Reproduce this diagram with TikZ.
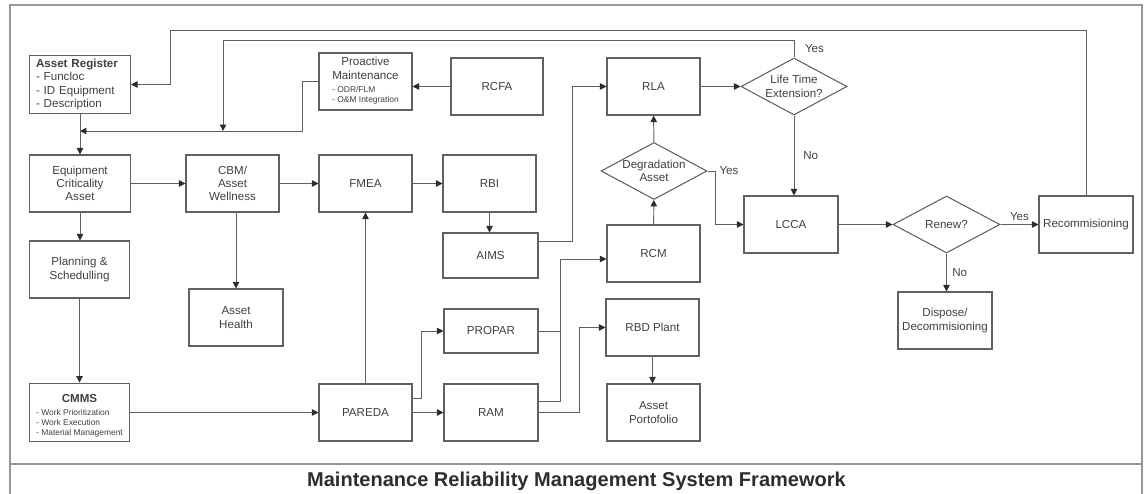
\documentclass[tikz,border=0pt]{standalone}
\usepackage{fontspec}
\setmainfont{Liberation Sans}
\usetikzlibrary{arrows.meta,shapes.geometric}
\definecolor{MrmsGray}{RGB}{96,96,96}
\definecolor{MrmsText}{RGB}{64,64,64}
\definecolor{MrmsDark}{RGB}{45,45,45}
\definecolor{MrmsFrame}{RGB}{150,150,150}
\newcommand{\mrmssmall}{\fontsize{4.8}{5.6}\selectfont}
\tikzset{
  mrms/box/.style={
    draw=MrmsGray,
    line width=0.6pt,
    fill=white,
    align=center,
    text=MrmsText,
    minimum width=1.86cm,
    minimum height=1.14cm,
    inner sep=2pt,
    font=\fontsize{6.6}{7.6}\selectfont
  },
  mrms/decision/.style={
    diamond,
    aspect=1.86,
    draw=MrmsGray,
    line width=0.6pt,
    fill=white,
    align=center,
    text=MrmsText,
    minimum width=2.12cm,
    minimum height=1.14cm,
    inner sep=0pt,
    font=\fontsize{6.6}{7.6}\selectfont
  },
  mrms/line/.style={draw=MrmsGray, line width=0.55pt},
  mrms/arrow/.style={mrms/line, -{Triangle[length=1.3mm,width=1.3mm,color=MrmsDark]}},
  mrms/tag/.style={font=\fontsize{6.6}{7.6}\selectfont, text=MrmsText, inner sep=1pt},
  mrms/title/.style={font=\fontsize{11.4}{13}\selectfont\bfseries, text=MrmsDark}
}
\begin{document}
\begin{tikzpicture}[x=0.02cm,y=-0.02cm]
  \useasboundingbox (0,0) rectangle (1144,494);
  % frame and title strip
  \draw[draw=MrmsFrame, line width=0.6pt] (10,494) -- (10,5) -- (1142,5) -- (1142,494);
  \draw[draw=MrmsFrame, line width=0.7pt] (10,464) -- (1142,464);
  \node[mrms/title, anchor=base] (title) at (576.5,486) {Maintenance Reliability Management System Framework};

  % left column
  \node[mrms/box, minimum width=2.02cm, text width=1.76cm, align=left] (areg) at (80,84.5)
    {\textbf{Asset Register}\\- Funcloc\\- ID Equipment\\- Description};
  \node[mrms/box, minimum width=2.02cm] (eca) at (80,183.5) {Equipment\\Criticality\\Asset};
  \node[mrms/box, minimum width=2.0cm] (plan) at (79.5,269.5) {Planning \&\\Schedulling};
  \node[mrms/box, minimum width=2.0cm] (cmms) at (79.5,412.5)
    {\rule{0pt}{9pt}\textbf{CMMS}\\{\mrmssmall\begin{tabular}[t]{@{}l@{}}- Work Prioritization\\- Work Execution\\- Material Management\end{tabular}}};

  % middle columns
  \node[mrms/box] (proact) at (365.5,81.5)
    {Proactive\\Maintenance\\{\mrmssmall\begin{tabular}[t]{@{}l@{}}- ODR/FLM\\- O\&M Integration\end{tabular}}};
  \node[mrms/box, minimum width=1.84cm] (rcfa) at (497,86.5) {RCFA};
  \node[mrms/box] (cbm) at (232.5,183.5) {CBM/\\Asset\\Wellness};
  \node[mrms/box, minimum width=1.88cm] (health) at (236,317.5) {Asset\\Health};
  \node[mrms/box] (fmea) at (365.5,183.5) {FMEA};
  \node[mrms/box] (pareda) at (365.5,412.5) {PAREDA};
  \node[mrms/box] (rbi) at (489.5,183.5) {RBI};
  \node[mrms/box, minimum width=1.9cm, minimum height=0.9cm] (aims) at (490.5,255.5) {AIMS};
  \node[mrms/box, minimum width=1.88cm, minimum height=0.88cm] (propar) at (491,331) {PROPAR};
  \node[mrms/box, minimum width=1.88cm] (ram) at (491,412.5) {RAM};

  % right columns
  \node[mrms/box] (rla) at (653.5,86.5) {RLA};
  \node[mrms/decision] (degr) at (654,171) {Degradation\\Asset};
  \node[mrms/box] (rcm) at (653.5,253.5) {RCM};
  \node[mrms/box] (rbd) at (652.5,327.5) {RBD Plant};
  \node[mrms/box] (portf) at (653.5,412.5) {Asset\\Portofolio};
  \node[mrms/decision] (lte) at (794,86.5) {Life Time\\Extension?};
  \node[mrms/box, minimum width=1.88cm] (lcca) at (791,224.5) {LCCA};
  \node[mrms/decision, minimum width=2.14cm] (renew) at (946.5,224.5) {Renew?};
  \node[mrms/box, minimum width=1.88cm] (recomm) at (1086,224.5) {Recommisioning};
  \node[mrms/box, minimum width=1.88cm] (dispose) at (945,320.5) {Dispose/\\Decommisioning};

  % feedback loops along the top
  \coordinate (topA) at (170,30);
  \coordinate (topB) at (223,40);
  \coordinate (feedA) at (80,131);
  \draw[mrms/arrow] (recomm.north) |- (topA) |- (areg.east);
  \draw[mrms/arrow] (lte.north) -- (lte.north |- topB) node[mrms/tag, midway, right=5pt] (yesLte) {Yes}
    -- (topB) -- (topB |- feedA);
  \draw[mrms/arrow] (proact.west) -- ++(-16,0) |- (feedA);
  \draw[mrms/arrow] (rcfa.west) -- (rcfa.west -| proact.east);

  % main flow
  \draw[mrms/arrow] (areg) -- (eca);
  \draw[mrms/arrow] (eca) -- (cbm);
  \draw[mrms/arrow] (cbm) -- (fmea);
  \draw[mrms/arrow] (fmea) -- (rbi);
  \draw[mrms/arrow] (rbi.south) -- (rbi.south |- aims.north);
  \draw[mrms/arrow] ([yshift=2.9mm]aims.east) -- ++(34,0) |- (rla.west);
  \draw[mrms/arrow] (rla) -- (lte);
  \draw[mrms/arrow] (lte.south) -- (lte.south |- lcca.north) node[mrms/tag, midway, right=4pt] (noLte) {No};
  \draw[mrms/arrow] (degr.east) -- ++(8,0) node[mrms/tag, right=1pt] (yesDeg) {Yes} |- (lcca.west);
  \draw[mrms/arrow] (degr) -- (rla);
  \draw[mrms/arrow] (rcm) -- (degr);
  \draw[mrms/arrow] (lcca) -- (renew);
  \draw[mrms/arrow] (renew) -- (recomm) node[mrms/tag, midway, above=1pt] (yesRen) {Yes};
  \draw[mrms/arrow] (renew.south) -- (renew.south |- dispose.north) node[mrms/tag, midway, right=2pt] (noRen) {No};

  % left column and lower rows
  \draw[mrms/arrow] (eca.south) -- (eca.south |- plan.north);
  \draw[mrms/arrow] (health.north |- cbm.south) -- (health.north);
  \draw[mrms/arrow] (plan) -- (cmms);
  \draw[mrms/arrow] (cmms) -- (pareda);
  \draw[mrms/arrow] (pareda.north) -- (pareda.north |- fmea.south);
  \draw[mrms/arrow] ([yshift=2.9mm]pareda.east) -- ++(9,0) |- (propar.west);
  \draw[mrms/arrow] (pareda) -- (ram);
  \draw[mrms/arrow] (propar.east) -- ++(22,0) coordinate (joinP) |- ([yshift=-1.1mm]rcm.west);
  \draw[mrms/line] ([yshift=2.3mm]ram.east) -| (joinP);
  \draw[mrms/arrow] (ram.east) -- ++(41,0) |- (rbd.west);
  \draw[mrms/arrow] (rbd.south) -- (rbd.south |- portf.north);
\end{tikzpicture}
\end{document}
